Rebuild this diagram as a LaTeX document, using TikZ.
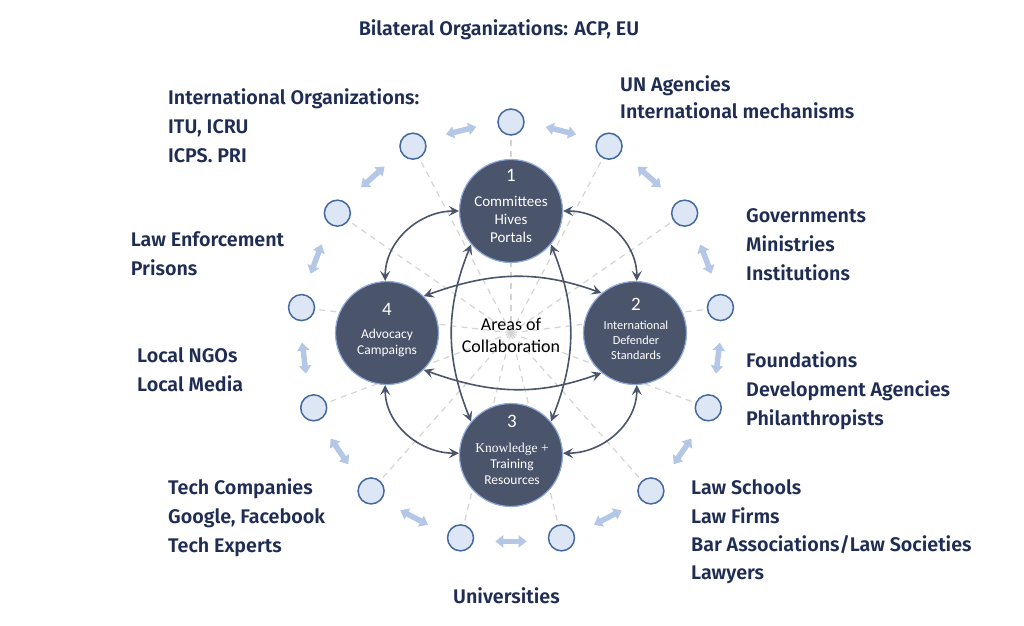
\documentclass[tikz,border=0pt]{standalone}
\usepackage{fontspec}
\newfontfamily\lblfont{Fira Sans SemiBold}
\newfontfamily\calfont{Carlito}
\newfontfamily\serfont{Liberation Serif}
\usetikzlibrary{arrows.meta,calc}
\definecolor{navy}{RGB}{31,45,84}
\definecolor{darkc}{RGB}{74,84,107}
\definecolor{bigedge}{RGB}{143,170,220}
\definecolor{ringedge}{RGB}{68,104,160}
\definecolor{ringfill}{RGB}{220,230,245}
\definecolor{ringblue}{RGB}{180,199,231}
\definecolor{spokegray}{RGB}{212,212,212}
\begin{document}
\begin{tikzpicture}[x=1pt,y=1pt,
  smallc/.style={circle,draw=ringedge,fill=ringfill,line width=1.5pt,minimum size=26pt,inner sep=0},
  bigc/.style={circle,draw=bigedge,fill=darkc,line width=1.2pt,minimum size=103pt,inner sep=0},
  ringarrow/.style={draw=ringblue,line width=5.5pt,{Triangle[width=12pt,length=8pt]}-{Triangle[width=12pt,length=8pt]}},
  spoke/.style={draw=spokegray,line width=1.2pt,dash pattern=on 6pt off 5pt},
  link/.style={draw=darkc,line width=1.6pt,{Stealth[length=10pt,width=10pt,inset=4pt]}-{Stealth[length=10pt,width=10pt,inset=4pt]}},
  lbl/.style={font=\lblfont\fontsize{19.7}{29}\selectfont,text=navy,align=left,anchor=west,inner sep=0},
  num/.style={font=\calfont\fontsize{19}{22}\selectfont,text=white,inner sep=0},
  intext/.style={text=white,align=center,inner sep=0},
]
\useasboundingbox (0,0) rectangle (1024,625);
\coordinate (O) at (511,292);
% outer ring circles
\foreach \k in {0,...,12}{
  \node[smallc] (s\k) at ($(O)+({90-\k*360/13}:211)$) {};
}
% dashed spokes
\foreach \k in {0,...,12}{
  \draw[spoke] (O) -- (s\k);
}
% ring double arrows
\foreach \k in {0,...,12}{
  \pgfmathsetmacro\ang{90-(\k+0.5)*360/13}
  \draw[ringarrow] ($(O)+({\ang+4.3}:209)$) -- ($(O)+({\ang-4.3}:209)$);
}
% central circles
\node[bigc] (c1) at (511,414) {};
\node[bigc] (c2) at (635,292) {};
\node[bigc] (c3) at (511,170) {};
\node[bigc] (c4) at (387,292) {};
% connectors
\draw[link] (c4.92) to[out=90,in=180] (c1.180);
\draw[link] (c1.0) to[out=0,in=90] (c2.88);
\draw[link] (c2.-88) to[out=-90,in=0] (c3.2);
\draw[link] (c3.178) to[out=180,in=-90] (c4.-92);
\draw[link] (c4.45) to[out=20,in=160] (c2.130);
\draw[link] (c4.-45) to[out=-20,in=-160] (c2.-130);
\draw[link] (c1.220) to[out=248,in=112] (c3.140);
\draw[link] (c1.-40) to[out=-68,in=68] (c3.40);
% circle texts
\node[num] (n1) at (511,447.5) {\strut 1};
\node[intext,font=\calfont\fontsize{15}{18}\selectfont] (t1) at (511,404) {\strut Committees\\\strut Hives\\\strut Portals};
\node[num] (n4) at (387,313.5) {\strut 4};
\node[intext,font=\calfont\fontsize{13.5}{16}\selectfont] (t4) at (387,282) {\strut Advocacy\\\strut Campaigns};
\node[num] (n2) at (636,318.5) {\strut 2};
\node[intext,font=\calfont\fontsize{12.3}{15}\selectfont] (t2) at (636,284) {\strut International\\\strut Defender\\\strut Standards};
\node[num] (n3) at (512,202) {\strut 3};
\node[intext,font=\calfont\fontsize{13.5}{16}\selectfont] (t3) at (512,160) {{\serfont\strut Knowledge +}\\\strut Training\\\strut Resources};
\node[font=\calfont\fontsize{18}{22}\selectfont,align=center,inner sep=0] (areas) at (511,288) {\strut Areas of\\\strut Collaboration};
% outer labels
\node[lbl,anchor=center] (bil) at (499,595.2) {\strut Bilateral Organizations: ACP, EU};
\node[lbl] (intl) at (168,496.8) {\strut International Organizations:\\\strut ITU, ICRU\\\strut ICPS. PRI};
\node[lbl,font=\lblfont\fontsize{19.7}{27}\selectfont] (un) at (620,525.8) {\strut UN Agencies\\\strut International mechanisms};
\node[lbl] (gov) at (746,379.7) {\strut Governments\\\strut Ministries\\\strut Institutions};
\node[lbl] (found) at (746,234.5) {\strut Foundations\\\strut Development Agencies\\\strut Philanthropists};
\node[lbl,font=\lblfont\fontsize{19.7}{28.3}\selectfont] (law) at (691,93.5) {\strut Law Schools\\\strut Law Firms\\\strut Bar Associations/Law Societies\\\strut Lawyers};
\node[lbl] (uni) at (453,27.5) {\strut Universities};
\node[lbl] (tech) at (168,107) {\strut Tech Companies\\\strut Google, Facebook\\\strut Tech Experts};
\node[lbl] (ngo) at (137,254) {\strut Local NGOs\\\strut Local Media};
\node[lbl] (enf) at (130.7,370) {\strut Law Enforcement\\\strut Prisons};
\end{tikzpicture}
\end{document}
